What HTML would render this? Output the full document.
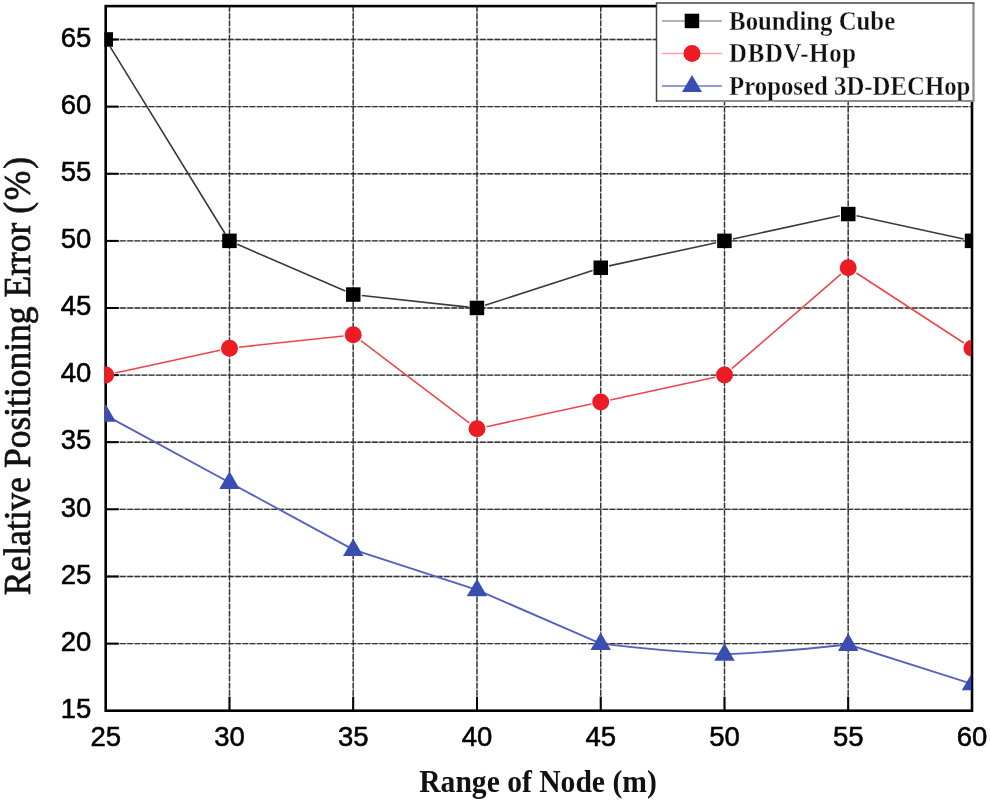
<!DOCTYPE html>
<html><head><meta charset="utf-8"><title>chart</title>
<style>
html,body{margin:0;padding:0;background:#fff;}
body{width:990px;height:803px;overflow:hidden;}
svg{display:block;will-change:transform;opacity:0.999}
.tick{font-family:"Liberation Sans",Arial,sans-serif;font-size:27.5px;fill:#000;stroke:#000;stroke-width:0.55px;}
.xl{font-family:"Liberation Serif","Times New Roman",serif;font-weight:bold;font-size:29.6px;fill:#111;}
.yl{font-family:"Liberation Serif","Times New Roman",serif;font-size:35.5px;fill:#111;stroke:#111;stroke-width:0.7px;}
.lg{font-family:"Liberation Serif","Times New Roman",serif;font-weight:bold;font-size:24.8px;fill:#111;stroke:#fff;stroke-width:0.3px;}
</style></head><body>
<svg width="990" height="803" viewBox="0 0 990 803">
<rect width="990" height="803" fill="#fff"/>
<defs><filter id="bl" x="-5%" y="-5%" width="110%" height="110%"><feGaussianBlur stdDeviation="0.7"/></filter><clipPath id="cp"><rect x="104.4" y="0" width="866.8" height="710.7"/></clipPath></defs>

<g stroke="#b4b4b4" stroke-width="1.4" fill="none">
<line x1="229.5" y1="6.1" x2="229.5" y2="710.7"/>
<line x1="353.2" y1="6.1" x2="353.2" y2="710.7"/>
<line x1="477.0" y1="6.1" x2="477.0" y2="710.7"/>
<line x1="600.7" y1="6.1" x2="600.7" y2="710.7"/>
<line x1="724.5" y1="6.1" x2="724.5" y2="710.7"/>
<line x1="848.2" y1="6.1" x2="848.2" y2="710.7"/>
<line x1="105.7" y1="643.6" x2="972.0" y2="643.6"/>
<line x1="105.7" y1="576.5" x2="972.0" y2="576.5"/>
<line x1="105.7" y1="509.3" x2="972.0" y2="509.3"/>
<line x1="105.7" y1="442.2" x2="972.0" y2="442.2"/>
<line x1="105.7" y1="375.1" x2="972.0" y2="375.1"/>
<line x1="105.7" y1="308.0" x2="972.0" y2="308.0"/>
<line x1="105.7" y1="240.9" x2="972.0" y2="240.9"/>
<line x1="105.7" y1="173.7" x2="972.0" y2="173.7"/>
<line x1="105.7" y1="106.6" x2="972.0" y2="106.6"/>
<line x1="105.7" y1="39.5" x2="972.0" y2="39.5"/>
</g>
<g stroke="#333" stroke-width="1.35" stroke-dasharray="5.6 1.6" fill="none" filter="url(#bl)">
<line x1="229.5" y1="6.1" x2="229.5" y2="710.7"/>
<line x1="353.2" y1="6.1" x2="353.2" y2="710.7"/>
<line x1="477.0" y1="6.1" x2="477.0" y2="710.7"/>
<line x1="600.7" y1="6.1" x2="600.7" y2="710.7"/>
<line x1="724.5" y1="6.1" x2="724.5" y2="710.7"/>
<line x1="848.2" y1="6.1" x2="848.2" y2="710.7"/>
<line x1="105.7" y1="643.6" x2="972.0" y2="643.6"/>
<line x1="105.7" y1="576.5" x2="972.0" y2="576.5"/>
<line x1="105.7" y1="509.3" x2="972.0" y2="509.3"/>
<line x1="105.7" y1="442.2" x2="972.0" y2="442.2"/>
<line x1="105.7" y1="375.1" x2="972.0" y2="375.1"/>
<line x1="105.7" y1="308.0" x2="972.0" y2="308.0"/>
<line x1="105.7" y1="240.9" x2="972.0" y2="240.9"/>
<line x1="105.7" y1="173.7" x2="972.0" y2="173.7"/>
<line x1="105.7" y1="106.6" x2="972.0" y2="106.6"/>
<line x1="105.7" y1="39.5" x2="972.0" y2="39.5"/>
</g>
<rect x="105.7" y="6.1" width="866.3" height="704.6" fill="none" stroke="#000" stroke-width="2.6"/>
<g stroke="#000" stroke-width="2">
<line x1="229.5" y1="710.7" x2="229.5" y2="696.7"/>
<line x1="353.2" y1="710.7" x2="353.2" y2="696.7"/>
<line x1="477.0" y1="710.7" x2="477.0" y2="696.7"/>
<line x1="600.7" y1="710.7" x2="600.7" y2="696.7"/>
<line x1="724.5" y1="710.7" x2="724.5" y2="696.7"/>
<line x1="848.2" y1="710.7" x2="848.2" y2="696.7"/>
<line x1="105.7" y1="643.6" x2="118.7" y2="643.6"/>
<line x1="105.7" y1="576.5" x2="118.7" y2="576.5"/>
<line x1="105.7" y1="509.3" x2="118.7" y2="509.3"/>
<line x1="105.7" y1="442.2" x2="118.7" y2="442.2"/>
<line x1="105.7" y1="375.1" x2="118.7" y2="375.1"/>
<line x1="105.7" y1="308.0" x2="118.7" y2="308.0"/>
<line x1="105.7" y1="240.9" x2="118.7" y2="240.9"/>
<line x1="105.7" y1="173.7" x2="118.7" y2="173.7"/>
<line x1="105.7" y1="106.6" x2="118.7" y2="106.6"/>
<line x1="105.7" y1="39.5" x2="118.7" y2="39.5"/>
</g>
<g clip-path="url(#cp)">
<path d="M110.2,46.8 L225.0,233.5 M237.3,244.3 L345.3,291.1 M361.8,295.5 L468.4,307.1 M485.1,305.3 L592.6,270.4 M609.1,265.9 L716.1,242.7 M732.9,239.0 L839.8,215.8 M856.6,215.8 L963.6,239.0" fill="none" stroke="#3a3a3a" stroke-width="1.6"/>
<path d="M115.2,373.0 L220.0,350.3 M239.1,347.2 L343.6,335.9 M360.9,340.7 L469.2,422.9 M486.5,426.7 L591.2,404.0 M610.2,399.9 L715.0,377.2 M731.8,368.7 L840.9,274.1 M856.4,273.0 L963.9,343.0" fill="none" stroke="#ef444a" stroke-width="1.55"/>
<path d="M105.7,415.4 L229.5,482.5 L353.2,549.6 L477.0,589.9 L600.7,643.6 Q662.6,651.1 724.5,654.3 Q786.4,651.6 848.2,644.5 L972.0,683.9" fill="none" stroke="#5561bf" stroke-width="1.9"/>
<rect x="98.5" y="32.2" width="14.5" height="14.5" fill="#000"/>
<rect x="222.2" y="233.6" width="14.5" height="14.5" fill="#000"/>
<rect x="346.0" y="287.3" width="14.5" height="14.5" fill="#000"/>
<rect x="469.7" y="300.7" width="14.5" height="14.5" fill="#000"/>
<rect x="593.5" y="260.5" width="14.5" height="14.5" fill="#000"/>
<rect x="717.2" y="233.6" width="14.5" height="14.5" fill="#000"/>
<rect x="841.0" y="206.8" width="14.5" height="14.5" fill="#000"/>
<rect x="964.8" y="233.6" width="14.5" height="14.5" fill="#000"/>
<circle cx="105.7" cy="375.1" r="8.5" fill="#ed1c24"/>
<circle cx="229.5" cy="348.3" r="8.5" fill="#ed1c24"/>
<circle cx="353.2" cy="334.8" r="8.5" fill="#ed1c24"/>
<circle cx="477.0" cy="428.8" r="8.5" fill="#ed1c24"/>
<circle cx="600.7" cy="401.9" r="8.5" fill="#ed1c24"/>
<circle cx="724.5" cy="375.1" r="8.5" fill="#ed1c24"/>
<circle cx="848.2" cy="267.7" r="8.5" fill="#ed1c24"/>
<circle cx="972.0" cy="348.3" r="8.5" fill="#ed1c24"/>
<polygon points="105.7,404.2 95.5,421.8 115.9,421.8" fill="#3a4db0"/>
<polygon points="229.5,471.3 219.3,488.9 239.7,488.9" fill="#3a4db0"/>
<polygon points="353.2,538.4 343.0,556.0 363.4,556.0" fill="#3a4db0"/>
<polygon points="477.0,578.7 466.8,596.3 487.2,596.3" fill="#3a4db0"/>
<polygon points="600.7,632.4 590.5,650.0 610.9,650.0" fill="#3a4db0"/>
<polygon points="724.5,643.1 714.3,660.7 734.7,660.7" fill="#3a4db0"/>
<polygon points="848.2,633.3 838.0,650.9 858.4,650.9" fill="#3a4db0"/>
<polygon points="972.0,672.7 961.8,690.3 982.2,690.3" fill="#3a4db0"/>
</g>
<text class="tick" x="105.7" y="746.3" text-anchor="middle">25</text>
<text class="tick" x="229.5" y="746.3" text-anchor="middle">30</text>
<text class="tick" x="353.2" y="746.3" text-anchor="middle">35</text>
<text class="tick" x="477.0" y="746.3" text-anchor="middle">40</text>
<text class="tick" x="600.7" y="746.3" text-anchor="middle">45</text>
<text class="tick" x="724.5" y="746.3" text-anchor="middle">50</text>
<text class="tick" x="848.2" y="746.3" text-anchor="middle">55</text>
<text class="tick" x="972.0" y="746.3" text-anchor="middle">60</text>
<text class="tick" x="91.3" y="717.9" text-anchor="end">15</text>
<text class="tick" x="91.3" y="650.8" text-anchor="end">20</text>
<text class="tick" x="91.3" y="583.7" text-anchor="end">25</text>
<text class="tick" x="91.3" y="516.5" text-anchor="end">30</text>
<text class="tick" x="91.3" y="449.4" text-anchor="end">35</text>
<text class="tick" x="91.3" y="382.3" text-anchor="end">40</text>
<text class="tick" x="91.3" y="315.2" text-anchor="end">45</text>
<text class="tick" x="91.3" y="248.1" text-anchor="end">50</text>
<text class="tick" x="91.3" y="180.9" text-anchor="end">55</text>
<text class="tick" x="91.3" y="113.8" text-anchor="end">60</text>
<text class="tick" x="91.3" y="46.7" text-anchor="end">65</text>
<text class="xl" transform="translate(538,791.5) scale(1,1.07)" text-anchor="middle">Range of Node (m)</text>
<text class="yl" transform="translate(29.7,375.2) rotate(-90) scale(1,1.07)" text-anchor="middle">Relative Positioning Error <tspan letter-spacing="1.8">(%)</tspan></text>
<rect x="656.5" y="3" width="317" height="98" fill="#fff"/>
<path d="M973.5,3 V101 H656.5" fill="none" stroke="#8c8c8c" stroke-width="2.2"/>
<path d="M656.5,102 V3 H974.5" fill="none" stroke="#444" stroke-width="1.5"/>
<line x1="662" y1="21.0" x2="722" y2="21.0" stroke="#9a9a9a" stroke-width="1.6"/>
<line x1="662" y1="53.5" x2="722" y2="53.5" stroke="#f5a0a4" stroke-width="1.6"/>
<line x1="662" y1="86.0" x2="722" y2="86.0" stroke="#6a78c8" stroke-width="1.6"/>
<rect x="684.7" y="13.7" width="14.5" height="14.5" fill="#000"/>
<circle cx="692" cy="53.5" r="8.5" fill="#ed1c24"/>
<polygon points="692,75 682,92 702,92" fill="#3a4db0"/>
<text class="lg" transform="translate(729.1,29.6) scale(1,1.11)">Bounding Cube</text>
<text class="lg" transform="translate(729.1,61.6) scale(1,1.11)" letter-spacing="0.7">DBDV-Hop</text>
<text class="lg" transform="translate(729.1,94.8) scale(1,1.11)">Proposed 3D-DECHop</text>
</svg></body></html>
